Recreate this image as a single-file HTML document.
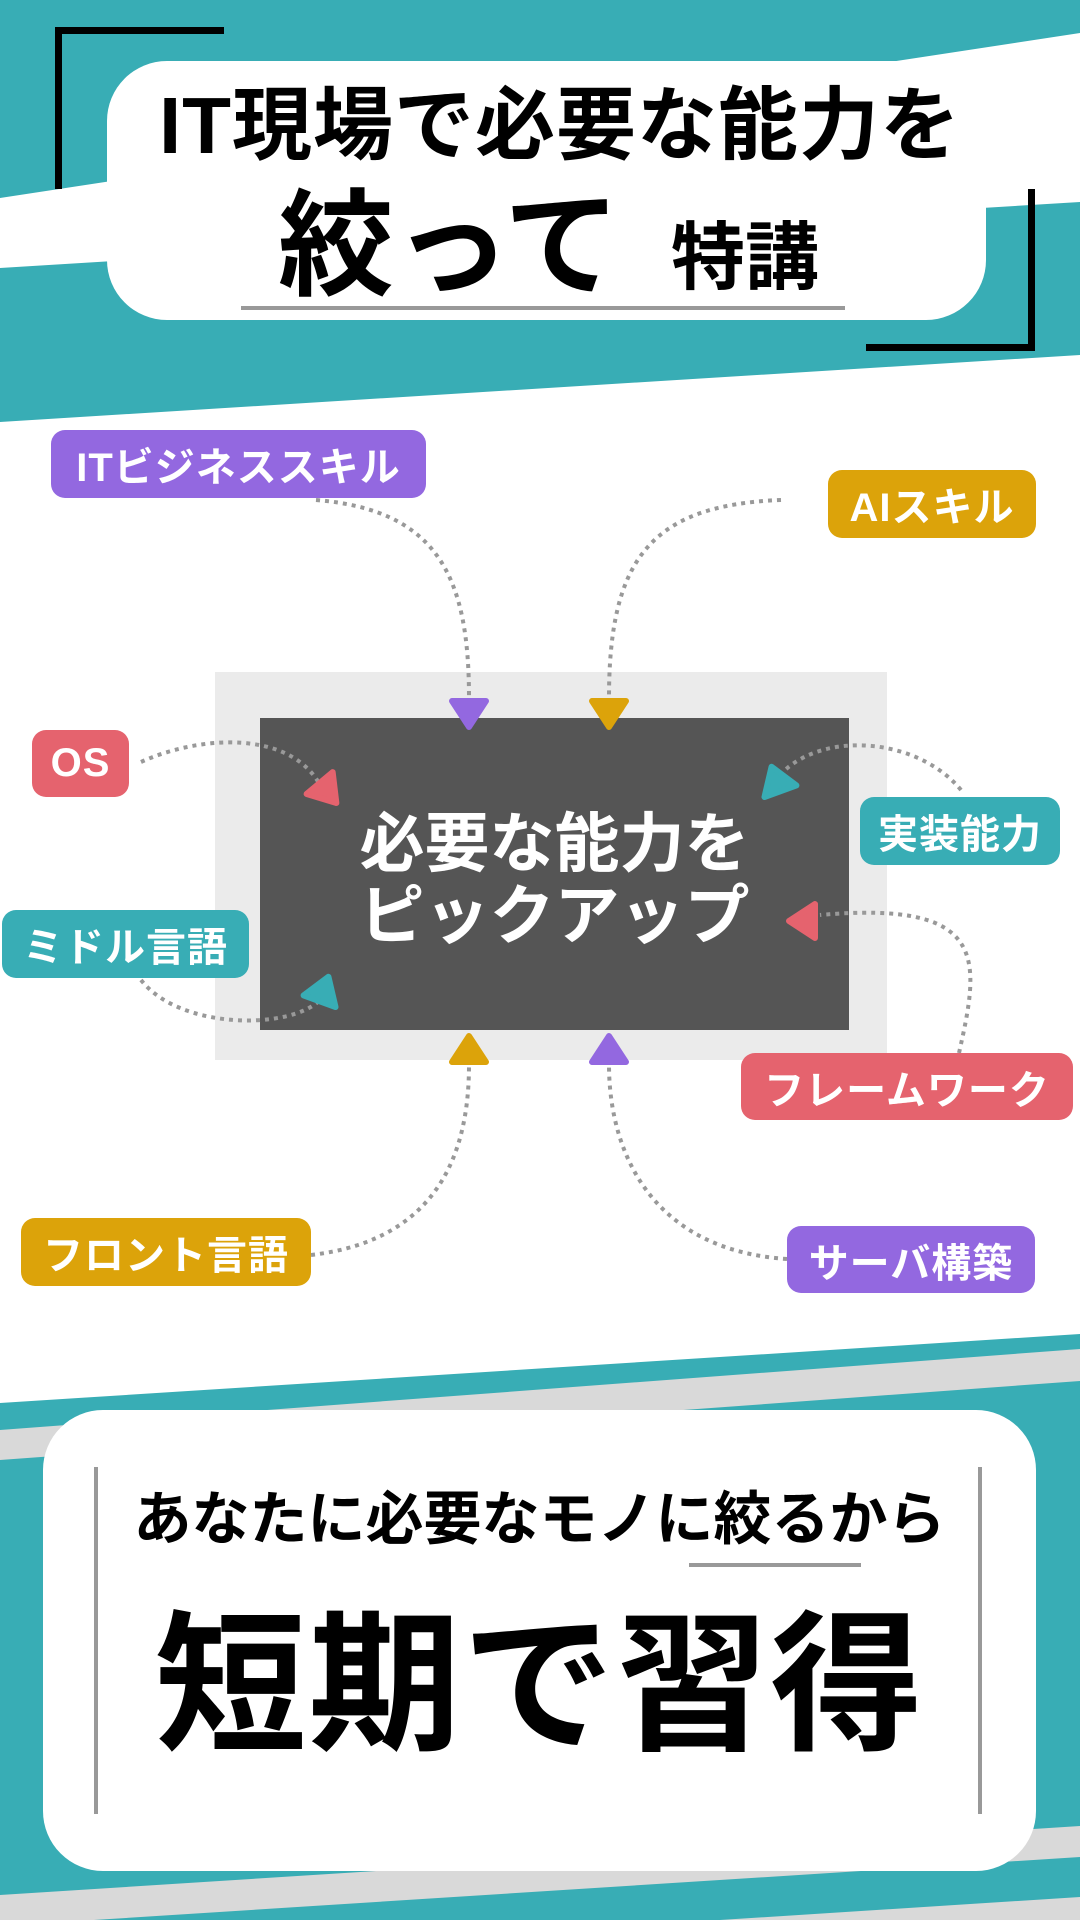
<!DOCTYPE html>
<html><head><meta charset="utf-8">
<style>
body{margin:0;width:1080px;height:1920px;overflow:hidden;background:#fff;font-family:"Liberation Sans","Noto Sans CJK JP",sans-serif;font-weight:700;}
.a{position:absolute;}
.t{white-space:nowrap;line-height:1;}
.pill{position:absolute;border-radius:14px;color:#fff;font-size:40px;display:flex;align-items:center;justify-content:center;white-space:nowrap;letter-spacing:1px;}
</style></head><body>
<svg class="a" style="left:0;top:0" width="1080" height="1920">
  <polygon points="0,0 1080,0 1080,355 0,422" fill="#38adb5"/>
  <polygon points="0,198 1080,33 1080,202 0,268" fill="#fff"/>
  <polygon points="0,1403 1080,1334 1080,1920 0,1920" fill="#38adb5"/>
  <polygon points="0,1430 1080,1349 1080,1381 0,1460" fill="#d9d9d9"/>
  <polygon points="0,1895 1080,1826 1080,1857 0,1926" fill="#d9d9d9"/>
  <polygon points="0,1966 1080,1897 1080,1920 0,1990" fill="#d9d9d9"/>
  <rect x="107" y="61" width="879" height="259" rx="60" fill="#fff"/>
  <rect x="55" y="27" width="169" height="7" fill="#000"/>
  <rect x="55" y="27" width="7" height="162" fill="#000"/>
  <rect x="1028" y="189" width="7" height="162" fill="#000"/>
  <rect x="866" y="344" width="169" height="7" fill="#000"/>
  <rect x="241" y="306" width="604" height="4" fill="#999"/>
  <rect x="215" y="672" width="672" height="388" fill="#ebebeb"/>
  <rect x="260" y="718" width="589" height="312" fill="#555"/>
  <g fill="none" stroke="#999" stroke-width="4" stroke-dasharray="4 5">
    <path d="M316 500 C440 510,469 580,469 698"/>
    <path d="M781 500 C650 505,609 560,609 698"/>
    <path d="M141 762 C200 735,290 730,320 785"/>
    <path d="M961 790 C920 740,830 730,785 770"/>
    <path d="M959 1053 C980 960,990 900,820 915"/>
    <path d="M141 980 C180 1030,290 1030,320 1000"/>
    <path d="M311 1255 C440 1240,469 1150,469 1065"/>
    <path d="M787 1259 C650 1250,609 1150,609 1065"/>
  </g>
  <g stroke-linejoin="round" stroke-width="6">
    <polygon points="452,701 486,701 469,727" fill="#9368e0" stroke="#9368e0"/>
    <polygon points="592,701 626,701 609,727" fill="#dca30a" stroke="#dca30a"/>
    <polygon points="452,1062 486,1062 469,1036" fill="#dca30a" stroke="#dca30a"/>
    <polygon points="592,1062 626,1062 609,1036" fill="#9368e0" stroke="#9368e0"/>
    <polygon points="311,780 345,780 328,806" fill="#e5636e" stroke="#e5636e" transform="rotate(-40 328 793)"/>
    <polygon points="759,766 793,766 776,792" fill="#38adb5" stroke="#38adb5" transform="rotate(160 776 779)"/>
    <polygon points="785,908 819,908 802,934" fill="#e5636e" stroke="#e5636e" transform="rotate(90 802 921)"/>
    <polygon points="307,976 341,976 324,1002" fill="#38adb5" stroke="#38adb5" transform="rotate(200 324 989)"/>
  </g>
  <rect x="43" y="1410" width="993" height="461" rx="60" fill="#fff"/>
  <rect x="94" y="1467" width="4" height="347" fill="#999"/>
  <rect x="978" y="1467" width="4" height="347" fill="#999"/>
  <rect x="689" y="1563" width="172" height="4" fill="#999"/>
</svg>

<div class="a t" style="left:110px;width:900px;top:86px;text-align:center;font-size:80px;letter-spacing:1px;">IT現場で必要な能力を</div>
<div class="a t" style="left:278px;top:188px;font-size:116px;">絞って</div>
<div class="a t" style="left:671px;top:221px;font-size:74px;">特講</div>

<div class="a t" style="left:260px;width:589px;top:808px;text-align:center;color:#fff;font-size:65px;line-height:72px;">必要な能力を<br>ピックアップ</div>

<div class="pill" style="left:51px;top:430px;width:375px;height:68px;background:#9368e0;">ITビジネススキル</div>
<div class="pill" style="left:828px;top:470px;width:208px;height:68px;background:#dca30a;">AIスキル</div>
<div class="pill" style="left:32px;top:730px;width:97px;height:67px;background:#e5636e;">OS</div>
<div class="pill" style="left:860px;top:797px;width:200px;height:68px;background:#38adb5;">実装能力</div>
<div class="pill" style="left:2px;top:910px;width:247px;height:68px;background:#38adb5;">ミドル言語</div>
<div class="pill" style="left:741px;top:1053px;width:332px;height:67px;background:#e5636e;">フレームワーク</div>
<div class="pill" style="left:21px;top:1218px;width:290px;height:68px;background:#dca30a;">フロント言語</div>
<div class="pill" style="left:787px;top:1226px;width:248px;height:67px;background:#9368e0;">サーバ構築</div>

<div class="a t" style="left:43px;width:993px;top:1491px;text-align:center;font-size:58px;">あなたに必要なモノに絞るから</div>
<div class="a t" style="left:43px;width:993px;top:1610px;text-align:center;font-size:152px;letter-spacing:2px;">短期で習得</div>
</body></html>
